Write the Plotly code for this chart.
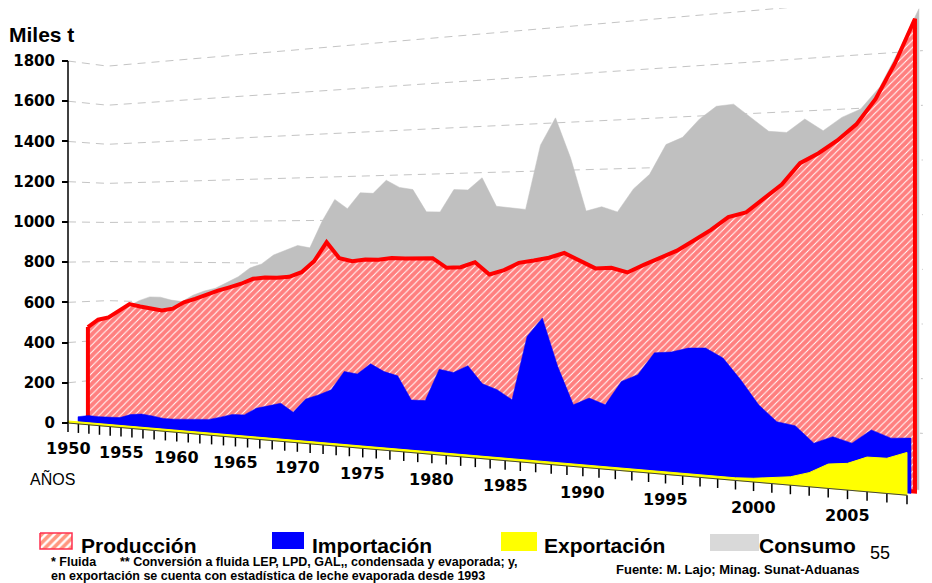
import plotly.graph_objects as go

years = list(range(1950, 2009))

produccion = [471, 510, 523, 560, 593, 583, 575, 567, 577, 609,
              627, 649, 669, 686, 704, 728, 735, 735, 740, 762,
              812, 899, 827, 814, 822, 822, 830, 828, 831, 830,
              789, 792, 814, 763, 782, 813, 823, 835, 855, 825,
              793, 796, 778, 809, 838, 866, 906, 947, 996, 1013,
              1065, 1117, 1196, 1231, 1276, 1333, 1423, 1550, 1705]

importacion = [25, 35, 34, 37, 38, 57, 64, 59, 51, 52,
               56, 58, 64, 79, 96, 98, 133, 148, 164, 127,
               191, 213, 240, 325, 317, 365, 334, 319, 218, 219,
               357, 346, 378, 305, 284, 246, 511, 589, 393, 241,
               272, 249, 346, 376, 465, 471, 489, 492, 456, 376,
               285, 226, 215, 155, 184, 165, 218, 193, 198]

exportacion = [10, 10, 10, 10, 10, 10, 10, 10, 10, 10,
               10, 10, 10, 10, 10, 10, 10, 10, 10, 10,
               10, 10, 10, 10, 10, 10, 10, 10, 10, 10,
               10, 10, 10, 10, 10, 10, 10, 10, 10, 10,
               10, 10, 10, 10, 10, 10, 10, 10, 10, 10,
               14, 23, 31, 52, 89, 97, 125, 126, 152]

consumo = [490, 525, 540, 578, 608, 628, 628, 615, 609, 642,
           663, 678, 706, 735, 777, 797, 839, 862, 884, 873,
           996, 1094, 1051, 1122, 1118, 1175, 1142, 1131, 1032, 1031,
           1127, 1124, 1175, 1052, 1045, 1037, 1305, 1416, 1246, 1027,
           1044, 1022, 1114, 1171, 1288, 1314, 1383, 1430, 1435, 1380,
           1324, 1317, 1365, 1318, 1365, 1393, 1471, 1603, 1747]

y_ticks = [0, 200, 400, 600, 800, 1000, 1200, 1400, 1600, 1800]
label_years = [1950, 1955, 1960, 1965, 1970, 1975, 1980, 1985, 1990, 1995, 2000, 2005]

OFF = 8                 # the page puts the figure 8px in from the corner
W, H = 932 - OFF, 583 - OFF
# perspective of the original 3-D Excel chart
PX_PER_YEAR = 10.34     # spacing of the first categories
PX_PER_UNIT = 0.20111   # vertical scale at the y axis
X0, Y0 = 68 - OFF, 423 - OFF   # pixel position of (1950, 0)
PERSP = 0.004917        # the chart gets closer to the right
HORIZON = 900.0         # value at the horizon line
DEPTH_X = 135.4         # vanishing point of the depth rows (x units)
DEPTH_R = 0.99286       # shrink per series row

BOLD = "DejaVu Sans"
ARIAL = "Liberation Sans, Arial"


def project(u, v, row=0):
    k = 1 / (1 - PERSP * u)
    x = u * k
    y = HORIZON + (v - HORIZON) * k
    s = DEPTH_R ** row
    return DEPTH_X + (x - DEPTH_X) * s, HORIZON + (y - HORIZON) * s


def ribbon(values, row):
    top = [project(yr - years[0], v, row) for yr, v in zip(years, values)]
    floor = [project(yr - years[0], 0, row) for yr in reversed(years)]
    pts = top + floor + [top[0]]
    return [p[0] for p in pts], [p[1] for p in pts]


fig = go.Figure()

# dashed gridlines on the side and back walls
last = years[-1] - years[0]
gx, gy = [], []
for v in y_ticks[1:]:
    for p in (project(0, v, 0), project(0, v, 4), project(last, v, 4)):
        gx.append(p[0])
        gy.append(p[1])
    gx.append(None)
    gy.append(None)
fig.add_trace(go.Scatter(x=gx, y=gy, mode="lines",
                         line=dict(color="#c4c4c4", width=1, dash="8px,6px"),
                         hoverinfo="skip", showlegend=False))

# series, back to front
x, y = ribbon(consumo, 3)
fig.add_trace(go.Scatter(x=x, y=y, mode="lines", fill="toself", fillcolor="#c0c0c0",
                         line=dict(color="#c0c0c0", width=0.5), name="Consumo", showlegend=False))
x, y = ribbon(produccion, 2)
fig.add_trace(go.Scatter(x=x, y=y, mode="lines", fill="toself",
                         fillpattern=dict(shape="/", fgcolor="#ff0000", bgcolor="white",
                                          size=5, solidity=0.8),
                         line=dict(color="#ff0000", width=4), name="Producción", showlegend=False))
x, y = ribbon(importacion, 1)
fig.add_trace(go.Scatter(x=x, y=y, mode="lines", fill="toself", fillcolor="#0000ff",
                         line=dict(color="#0000ff", width=0.5), name="Importación", showlegend=False))
x, y = ribbon(exportacion, 0)
fig.add_trace(go.Scatter(x=x, y=y, mode="lines", fill="toself", fillcolor="#ffff00",
                         line=dict(color="#ffff00", width=1), name="Exportación", showlegend=False))

# front floor line and year ticks
fx, fy = [], []
for yr in years:
    a = project(yr - years[0], 0)
    fx += [a[0], a[0], None]
    fy += [a[1], a[1] - 45, None]
fig.add_trace(go.Scatter(x=fx, y=fy, mode="lines", line=dict(color="black", width=1.5),
                         hoverinfo="skip", showlegend=False))
a, b = project(0, 0), project(last, 0)
fig.add_trace(go.Scatter(x=[a[0], b[0]], y=[a[1], b[1]], mode="lines",
                         line=dict(color="#444", width=1), hoverinfo="skip", showlegend=False))

for yr in label_years:
    px, py = project(yr - years[0], 0)
    fig.add_annotation(x=px, y=py, xref="x", yref="y", text=str(yr), showarrow=False,
                       yshift=-25, xanchor="center", yanchor="middle",
                       font=dict(family=BOLD, size=16, color="black", weight="bold"))

# y axis line
fig.add_shape(type="line", xref="x", yref="y", x0=0, x1=0, y0=y_ticks[0], y1=y_ticks[-1],
              line=dict(color="black", width=1.5))

# legend swatch with hatch (pixel overlay axes)
sx = [40, 72, 72, 40, 40]
sy = [533, 533, 549, 549, 533]
fig.add_trace(go.Scatter(x=[v - OFF for v in sx], y=[v - OFF for v in sy],
                         xaxis="x2", yaxis="y2", mode="lines", fill="toself",
                         fillpattern=dict(shape="/", fgcolor="#ff3000", bgcolor="white",
                                          size=6, solidity=0.6),
                         line=dict(color="#ff3050", width=1.5), hoverinfo="skip", showlegend=False))
for x0, x1, y0, y1, col in [(272, 304, 532, 549, "#0000ff"),
                            (501, 537, 532, 551, "#ffff00"),
                            (710, 759, 534, 551, "#d9d9d9")]:
    fig.add_shape(type="rect", xref="x2", yref="y2", x0=x0 - OFF, x1=x1 - OFF,
                  y0=y0 - OFF, y1=y1 - OFF, fillcolor=col, line=dict(width=0))


def text(x, y, s, size, bold=True, family=ARIAL):
    fig.add_annotation(x=x - OFF, y=y - OFF, xref="x2", yref="y2", text=s, showarrow=False,
                       xanchor="left", yanchor="middle", borderpad=0,
                       font=dict(family=family, size=size, color="black",
                                 weight="bold" if bold else "normal"))


text(8, 34, "Miles t", 21)
text(29, 478, "AÑOS", 16, bold=False)
text(80, 545, "Producción", 21)
text(311, 545, "Importación", 21)
text(543, 545, "Exportación", 21)
text(758, 545, "Consumo", 21)
text(869, 553, "55", 18, bold=False)
text(50, 562, "* Fluida", 12.5)
text(119, 562, "** Conversión a fluida LEP, LPD, GAL,, condensada y evaporada; y,", 12.5)
text(50, 575.5, "en exportación se cuenta con estadística de leche evaporada desde 1993", 12.5)
text(615, 569, "Fuente: M. Lajo; Minag. Sunat-Aduanas", 13)

fig.update_layout(
    width=W, height=H, autosize=False,
    margin=dict(l=0, r=0, t=0, b=0),
    plot_bgcolor="white", paper_bgcolor="white",
    showlegend=False, hovermode=False,
    xaxis=dict(range=[-X0 / PX_PER_YEAR, (W - X0) / PX_PER_YEAR], visible=False,
               domain=[0, 1]),
    yaxis=dict(range=[-(H - Y0) / PX_PER_UNIT, Y0 / PX_PER_UNIT], anchor="free",
               position=X0 / W, tickvals=y_ticks, ticks="outside", ticklen=6,
               tickwidth=1.5, tickcolor="black", showgrid=False, zeroline=False,
               showline=False, ticklabelstandoff=4,
               tickfont=dict(family=BOLD, size=15, color="black", weight="bold")),
    xaxis2=dict(range=[0, W], overlaying="x", anchor="y2", visible=False),
    yaxis2=dict(range=[H, 0], overlaying="y", anchor="x2", visible=False),
)

fig.write_html("out.html")
